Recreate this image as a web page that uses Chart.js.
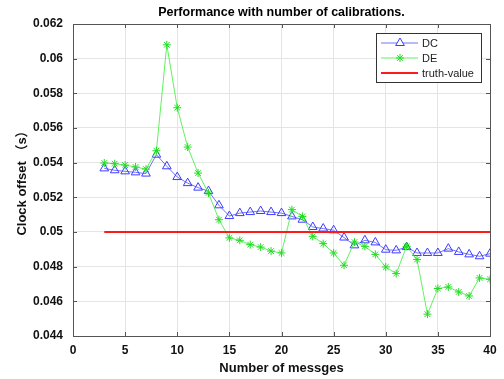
<!DOCTYPE html>
<html>
<head>
<meta charset="utf-8">
<script src="https://cdn.jsdelivr.net/npm/chart.js@4/dist/chart.umd.min.js"></script>
<style>
  html, body { margin: 0; padding: 0; background: #fff; }
  #wrap { width: 504px; height: 379px; }
</style>
</head>
<body>
<div id="wrap"><canvas id="chart" width="504" height="379"></canvas></div>
<script>
// messages count (x) for both series
const messages = [3, 4, 5, 6, 7, 8, 9, 10, 11, 12, 13, 14, 15, 16, 17, 18, 19, 20, 21, 22,
                  23, 24, 25, 26, 27, 28, 29, 30, 31, 32, 33, 34, 35, 36, 37, 38, 39, 40];
const dcValues = [0.05367, 0.05356, 0.0535, 0.05344, 0.05337, 0.05446, 0.05379, 0.05317, 0.05282, 0.05256,
                  0.05236, 0.05154, 0.05092, 0.05109, 0.05115, 0.05121, 0.05115, 0.05109, 0.0509, 0.05071,
                  0.05029, 0.0502, 0.0501, 0.04968, 0.04923, 0.04952, 0.0494, 0.04898, 0.04894, 0.04913,
                  0.04879, 0.04879, 0.04879, 0.04904, 0.04885, 0.04871, 0.0486, 0.04875];
const deValues = [0.05398, 0.05394, 0.05386, 0.05375, 0.05363, 0.05469, 0.0608, 0.05717, 0.0549, 0.0534,
                  0.05225, 0.05071, 0.04966, 0.04952, 0.04927, 0.04913, 0.0489, 0.04879, 0.05129, 0.0509,
                  0.04975, 0.04933, 0.04879, 0.04808, 0.04942, 0.04917, 0.04871, 0.04798, 0.0476, 0.04917,
                  0.04841, 0.04526, 0.04674, 0.04683, 0.04654, 0.04631, 0.04735, 0.04727];
const truthX = [3, 40];
const truthValues = [0.05, 0.05];

const xTicks = [0, 5, 10, 15, 20, 25, 30, 35, 40];
const yTicks = [0.044, 0.046, 0.048, 0.05, 0.052, 0.054, 0.056, 0.058, 0.06, 0.062];

const toPoints = (xs, ys) => xs.map((x, i) => ({ x: x, y: ys[i] }));

const FONT = "'Liberation Sans', Arial, 'Noto Sans CJK SC', sans-serif";

// box around the plot + inward tick marks (matlab style)
const boxPlugin = {
    id: "box",
    beforeDatasetsDraw(chart) {
        const { ctx, chartArea: a, scales } = chart;
        ctx.save();
        ctx.strokeStyle = "#555";
        ctx.lineWidth = 1;
        ctx.beginPath();
        for (const v of xTicks) {
            const px = Math.round(scales.x.getPixelForValue(v)) + 0.5;
            ctx.moveTo(px, a.bottom); ctx.lineTo(px, a.bottom - 4);
            ctx.moveTo(px, a.top); ctx.lineTo(px, a.top + 4);
        }
        for (const v of yTicks) {
            const py = Math.round(scales.y.getPixelForValue(v)) + 0.5;
            ctx.moveTo(a.left, py); ctx.lineTo(a.left + 4, py);
            ctx.moveTo(a.right, py); ctx.lineTo(a.right - 4, py);
        }
        ctx.stroke();
        ctx.strokeRect(Math.round(a.left) + 0.5, Math.round(a.top) + 0.5,
                       Math.round(a.right - a.left), Math.round(a.bottom - a.top));
        ctx.restore();
    },
};

// legend in the upper right corner of the plot
const legendPlugin = {
    id: "boxLegend",
    afterDraw(chart) {
        const { ctx, chartArea: a } = chart;
        const x0 = a.right - 114, y0 = a.top + 9, w = 105, h = 49;
        ctx.save();
        ctx.fillStyle = "#fff";
        ctx.fillRect(x0, y0, w, h);
        ctx.strokeStyle = "#333";
        ctx.lineWidth = 1;
        ctx.strokeRect(x0 + 0.5, y0 + 0.5, w, h);
        ctx.font = "11px " + FONT;
        ctx.textBaseline = "middle";
        chart.data.datasets.forEach((ds, i) => {
            const yy = y0 + 10 + i * 15;
            ctx.strokeStyle = ds.borderColor;
            ctx.lineWidth = ds.borderWidth;
            ctx.beginPath();
            ctx.moveTo(x0 + 5, yy);
            ctx.lineTo(x0 + 42, yy);
            ctx.stroke();
            if (ds.pointRadius > 0) {
                ctx.strokeStyle = ds.pointBorderColor;
                ctx.lineWidth = 1;
                Chart.helpers.drawPoint(ctx, {
                    pointStyle: ds.pointStyle,
                    radius: ds.pointRadius,
                    borderWidth: 1,
                    rotation: 0,
                }, x0 + 24, yy);
            }
            ctx.fillStyle = "#222";
            ctx.fillText(ds.label, x0 + 46, yy + 0.5);
        });
        ctx.restore();
    },
};

new Chart(document.getElementById("chart"), {
    type: "line",
    data: {
        datasets: [{
            label: "DC",
            data: toPoints(messages, dcValues),
            borderColor: "rgba(100,100,255,0.9)",
            borderWidth: 1,
            pointStyle: "triangle",
            pointRadius: 5,
            pointBorderColor: "#3c3cff",
            pointBackgroundColor: "rgba(0,0,0,0)",
            pointBorderWidth: 1,
            order: 3,
        }, {
            label: "DE",
            data: toPoints(messages, deValues),
            borderColor: "rgba(80,240,80,0.9)",
            borderWidth: 1,
            pointStyle: "star",
            pointRadius: 4,
            pointBorderColor: "#22dd22",
            pointBackgroundColor: "#22dd22",
            pointBorderWidth: 1,
            order: 2,
        }, {
            label: "truth-value",
            data: toPoints(truthX, truthValues),
            borderColor: "#ff1a1a",
            borderWidth: 2,
            pointRadius: 0,
            order: 1,
        }],
    },
    options: {
        responsive: false,
        animation: false,
        layout: { padding: { top: 0, right: 14, bottom: 0, left: 0 } },
        plugins: {
            legend: { display: false },
            tooltip: { enabled: false },
            title: {
                display: true,
                fullSize: false,
                text: "Performance with number of calibrations.",
                color: "#000",
                font: { family: FONT, size: 12.5, weight: "bold" },
                padding: { top: 5, bottom: 4 },
            },
        },
        scales: {
            x: {
                type: "linear",
                min: 0,
                max: 40,
                afterBuildTicks: s => { s.ticks = xTicks.map(v => ({ value: v })); },
                afterFit: s => { s.height = 43; },
                grid: { color: "#e4e4e4", drawTicks: false },
                border: { display: false },
                ticks: {
                    color: "#111",
                    padding: 7,
                    maxRotation: 0,
                    font: { family: FONT, size: 12, weight: "bold" },
                },
                title: {
                    display: true,
                    text: "Number of messges",
                    color: "#111",
                    font: { family: FONT, size: 13, weight: "bold" },
                    padding: { top: 0, bottom: 3 },
                },
            },
            y: {
                min: 0.044,
                max: 0.062,
                afterBuildTicks: s => { s.ticks = yTicks.map(v => ({ value: v })); },
                afterFit: s => { s.width = 73; },
                grid: { color: "#e4e4e4", drawTicks: false },
                border: { display: false },
                ticks: {
                    color: "#111",
                    padding: 10,
                    callback: v => String(Number(v.toFixed(3))),
                    font: { family: FONT, size: 12, weight: "bold" },
                },
                title: {
                    display: true,
                    text: "Clock offset （s）",
                    color: "#111",
                    font: { family: FONT, size: 13, weight: "bold" },
                    padding: { top: 15, bottom: 0 },
                },
            },
        },
    },
    plugins: [boxPlugin, legendPlugin],
});
</script>
</body>
</html>
